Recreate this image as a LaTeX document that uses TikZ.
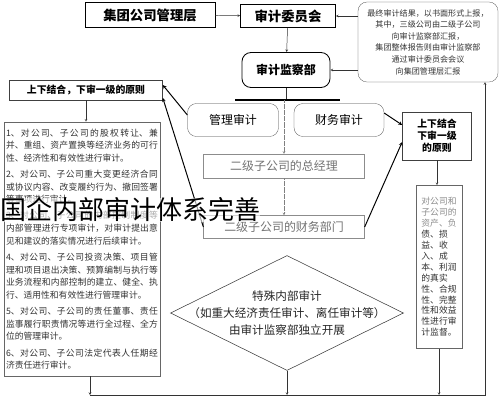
\documentclass[tikz,border=0pt]{standalone}
\usepackage{fontspec}
\setmainfont{Noto Sans CJK SC}
\XeTeXlinebreaklocale "zh"
\XeTeXlinebreakskip = 0pt plus 1pt
\usetikzlibrary{arrows,shapes,calc}

\begin{document}
\begin{tikzpicture}[x=0.05cm, y=-0.05cm, >=stealth,
            every node/.style = {inner sep=1mm, align=center},
            box/.style = {draw=black!75, fill=white, font=\fontsize{17pt}{20pt}\selectfont},
            headbox/.style = {box, draw=black, line width=1pt, font=\fontsize{19pt}{22pt}\selectfont\bfseries},
            roundbox/.style = {box, rounded corners=0.45cm},
            fadebox/.style = {box, draw=black!45, text=black!55},
            smalltext/.style = {font=\fontsize{12.5pt}{18pt}\selectfont, text=black!80},
            conn/.style = {draw=black!80, line width=0.7pt},
            thickconn/.style = {draw=black, line width=1.4pt},
        ]
        \useasboundingbox (0,0) rectangle (500,400);

        \node[headbox, minimum width=6.5cm, minimum height=1.25cm] (group) at (150,15) {集团公司管理层};
        \node[headbox, minimum width=4.75cm, minimum height=1.15cm] (committee) at (288,16) {审计委员会};
        \node[roundbox, smalltext, font=\fontsize{11.5pt}{16.5pt}\selectfont, minimum width=7cm, minimum height=4cm] (report) at (428,42)
            {最终审计结果，以书面形式上报，\\其中，三级公司由二级子公司\\向审计监察部汇报，\\集团整体报告则由审计监察部\\通过审计委员会会议\\向集团管理层汇报};
        \node[roundbox, draw=black, line width=1.2pt, font=\fontsize{17pt}{20pt}\selectfont\bfseries,
            minimum width=4.4cm, minimum height=1.75cm] (audit) at (286,70) {审计监察部};

        \coordinate (barl) at (235,100);
        \coordinate (barr) at (340,100);

        \node[roundbox, minimum width=4.55cm, minimum height=1.65cm] (mgmt) at (233,120) {管理审计};
        \node[roundbox, minimum width=4.5cm, minimum height=1.65cm] (fin) at (339,120) {财务审计};
        \node[fadebox, minimum width=8.05cm, minimum height=1.2cm] (gm) at (284,166) {二级子公司的总经理};
        \node[fadebox, minimum width=8.05cm, minimum height=1.15cm] (findept) at (284,227) {二级子公司的财务部门};

        \node[box, line width=0.9pt, font=\fontsize{14pt}{17pt}\selectfont\bfseries,
            minimum width=7.65cm, minimum height=1cm] (leftrule) at (86,90) {上下结合，下审一级的原则};
        \node[box, smalltext, draw=black!60, line width=0.9pt, text width=7.6cm, align=justify,
            minimum height=12.7cm] (tasks) at (82,249)
            {1、对公司、子公司的股权转让、兼并、重组、资产置换等经济业务的可行性、经济性和有效性进行审计。\par\vspace{5pt}
             2、对公司、子公司重大变更经济合同或协议内容、改变履约行为、撤回签署等事项进行审计。\par\vspace{5pt}
             3、对公司、子公司的内部控制制度等内部管理进行专项审计，对审计提出意见和建议的落实情况进行后续审计。\par\vspace{5pt}
             4、对公司、子公司投资决策、项目管理和项目退出决策、预算编制与执行等业务流程和内部控制的建立、健全、执行、适用性和有效性进行管理审计。\par\vspace{5pt}
             5、对公司、子公司的责任董事、责任监事履行职责情况等进行全过程、全方位的管理审计。\par\vspace{5pt}
             6、对公司、子公司法定代表人任期经济责任进行审计。};

        \node[box, line width=0.9pt, font=\fontsize{14pt}{17pt}\selectfont\bfseries,
            minimum width=3.45cm, minimum height=2.4cm] (rightrule) at (437,136) {上下结合\\下审一级\\的原则};
        \node[box, smalltext, font=\fontsize{12.5pt}{15.5pt}\selectfont, draw=black!60, line width=0.9pt,
            align=left, inner sep=1.5mm, minimum width=2.3cm, minimum height=8.15cm] (scope) at (439,267)
            {\textcolor{black!45}{对公司和}\\\textcolor{black!45}{子公司的}\\\textcolor{black!45}{资产、负}\\债、损\\益、收\\入、成\\本、利润\\的真实\\性、合规\\性、完整\\性和效益\\性进行审\\计监督。};

        \node[draw=black!75, line width=0.8pt, diamond, inner sep=0pt,
            minimum width=11.65cm, minimum height=5.75cm] (special) at (287,313) {};
        \node[font=\fontsize{16.5pt}{24pt}\selectfont, text=black!85] (specialtext) at (special)
            {特殊内部审计\\（如重大经济责任审计、离任审计等）\\由审计监察部独立开展};

        \coordinate (bl) at (90,395);
        \coordinate (br) at (485,395);

        \draw[->, conn] (group) -- (committee);
        \draw[->, conn] (report.west |- committee) -- (committee.east);
        \draw[->, conn] (report.west |- audit) -- (audit.east);
        \draw[->, conn] (committee) -- (audit);
        \draw[conn] (audit.south) -- (audit.south |- barl);
        \draw[line width=2.2pt] (barl) -- (barr);
        \draw[->, densely dotted, black!50, line width=0.7pt] (gm.north |- barl) -- (gm.north);
        \draw[->, densely dotted, black!50, line width=0.7pt] (gm) -- (findept);

        \draw[->, thickconn] ([yshift=0.25cm]mgmt.west) -- ([yshift=0.25cm]leftrule.east);
        \draw[->, thickconn] (findept.west) -- ([yshift=-0.4cm]leftrule.east);
        \draw[->, thickconn] ([yshift=0.35cm]fin.east) -- ([yshift=0.55cm]rightrule.west);
        \draw[->, thickconn] (findept.east) -- ([yshift=-0.3cm]rightrule.west);
        \draw[->, conn] (leftrule.south) -- (leftrule.south |- tasks.north);
        \draw[->, conn] (rightrule.south) -- (rightrule.south |- scope.north);

        \draw[->, conn] (tasks.south -| bl) -- (bl);
        \foreach \n in {special, scope}
            {
                \draw[->, conn] (\n.south) -- (\n.south |- bl);
            }
        \draw[->, conn] (bl) -- (br) -- (report.south -| br);

        \node[anchor=west, inner sep=0pt, fill=white, fill opacity=0.6, text opacity=1,
            font=\fontsize{37pt}{40pt}\selectfont] (mark) at (0,210) {国企内部审计体系完善};
    \end{tikzpicture}
\end{document}
